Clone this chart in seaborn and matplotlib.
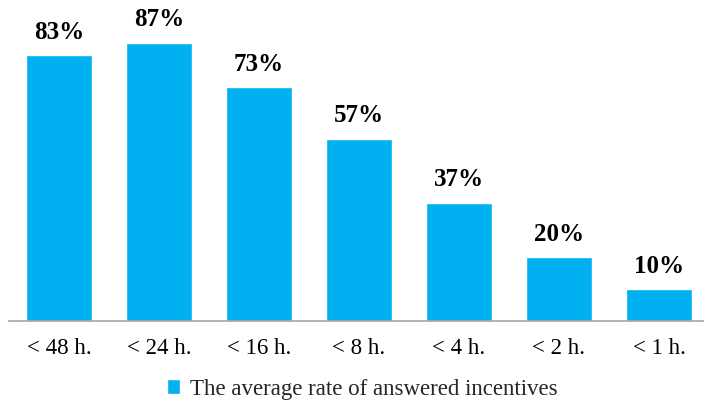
import matplotlib
matplotlib.use("Agg")
import matplotlib.pyplot as plt
import seaborn as sns
import pandas as pd

categories = ["< 48 h.", "< 24 h.", "< 16 h.", "< 8 h.", "< 4 h.", "< 2 h.", "< 1 h."]
values = [83, 87, 73, 57, 37, 20, 10]
series_name = "The average rate of answered incentives"

df = pd.DataFrame({"cat": categories, "val": values, "series": [series_name] * len(categories)})

sns.set_theme(style="white")
plt.rcParams["font.family"] = ["Liberation Serif", "DejaVu Serif"]

fig = plt.figure(figsize=(7.04, 4.00), dpi=100)
ax = fig.add_axes([9 / 704, 79 / 400, 700 / 704, 320 / 400])

sns.barplot(data=df, x="cat", y="val", hue="series", palette=["#00B0F0"],
            width=0.66, ax=ax, legend=True, saturation=1)

ax.set_ylim(0, 100)
ax.set_xlim(-0.5, 6.5)
ax.set_xlabel("")
ax.set_ylabel("")
ax.set_yticks([])
for s in ["top", "right", "left"]:
    ax.spines[s].set_visible(False)
ax.spines["bottom"].set_color("#A6A6A6")
ax.spines["bottom"].set_linewidth(1.2)
ax.tick_params(axis="x", length=0, pad=12, labelsize=16.5, labelcolor="#000000")

for c in ax.containers:
    ax.bar_label(c, fmt="%d%%", padding=8, fontsize=18, fontweight="bold", color="#000000")

handles, labels = ax.get_legend_handles_labels()
ax.get_legend().remove()
fig.legend(handles, labels, loc="center", bbox_to_anchor=(362 / 704, 11 / 400),
           frameon=False, fontsize=16.5, handlelength=0.6, handleheight=0.6,
           handletextpad=0.4, borderpad=0, borderaxespad=0)

fig.savefig("out.png", dpi=100)
